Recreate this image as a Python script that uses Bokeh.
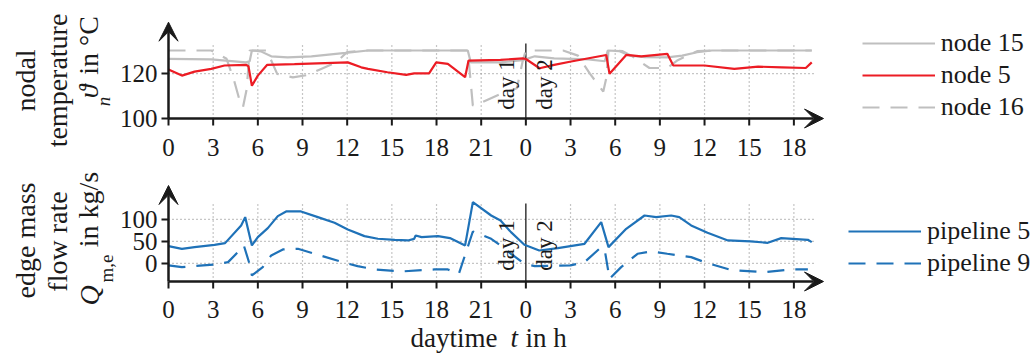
import math
from bokeh.plotting import figure
from bokeh.models import Range1d, FixedTicker, Arrow, VeeHead, Label, Legend, LegendItem
from bokeh.layouts import column
from bokeh.embed import file_html
from bokeh.resources import INLINE

# ---------------- data ----------------
hour_ticks = [0, 3, 6, 9, 12, 15, 18, 21, 24, 27, 30, 33, 36, 39, 42]
hour_tick_labels = ["0", "3", "6", "9", "12", "15", "18", "21",
                    "0", "3", "6", "9", "12", "15", "18"]
day_boundary = 24
temp_ticks = [100, 120]
temp_tick_labels = ["100", "120"]
temp_grid = [120]
flow_ticks = [0, 50, 100]
flow_tick_labels = ["0", "50", "100"]
flow_grid = [0, 50, 100]

node15_t = [0, 2.87, 5.2, 5.45, 5.6, 6.2, 6.9, 8.0, 9.6, 11.9, 13.4, 20.1, 20.3, 22.3,
            23.8, 24.6, 25.9, 28.2, 29.3, 29.5, 30.3, 31.0, 32.0, 33.5, 34.5, 35.5, 36.5, 43.2]
node15 = [126.6, 126.3, 125.0, 125.5, 130.3, 129.9, 127.7, 127.2, 127.7, 129.2, 130.3, 130.3, 125.0, 125.0,
          126.0, 127.7, 126.8, 126.3, 125.5, 130.3, 130.0, 128.0, 127.3, 127.2, 128.0, 129.5, 130.3, 130.3]

node5_t = [0, 0.9, 1.75, 2.87, 3.76, 5.2, 5.37, 5.6, 6.0, 6.63, 8.46, 12.04, 12.94, 13.4, 14.7, 15.96,
           16.5, 17.5, 17.98, 18.76, 19.92, 20.15, 22.3, 23.8, 24.0, 24.92, 25.9, 27.04, 29.4, 29.62,
           30.74, 31.75, 33.5, 33.9, 36.0, 38.0, 39.6, 41.2, 42.8, 43.2]
node5 = [121.8, 119.1, 120.9, 122.1, 123.6, 123.9, 123.3, 114.6, 119.1, 123.9, 124.2, 125.0, 122.8, 122.1,
         120.6, 119.4, 120.1, 120.1, 125.0, 124.3, 118.4, 125.8, 126.1, 126.8, 126.5, 122.4, 123.9, 125.4,
         128.3, 119.9, 128.3, 127.7, 128.8, 123.6, 123.6, 122.1, 123.1, 122.8, 122.5, 125.0]

node16_t = [0, 2.87, 3.9, 4.4, 4.75, 5.0, 5.25, 5.45, 6.6, 7.3, 8.35, 9.36, 10.25, 11.26, 12.0, 13.4,
            20.1, 20.44, 21.0, 22.3, 23.4, 23.8, 24.0, 26.5, 27.5, 28.3, 29.2, 29.4, 29.55, 30.5,
            31.2, 32.3, 33.5, 34.2, 35.5, 36.5, 43.2]
node16 = [130.3, 130.3, 126.6, 117.0, 108.7, 105.0, 113.0, 130.3, 130.3, 119.9, 118.3, 119.4, 122.1, 125.0,
          129.6, 130.3, 130.3, 105.7, 107.1, 110.9, 113.5, 126.0, 130.3, 130.3, 128.0, 120.0, 112.0, 118.0,
          130.3, 130.0, 127.5, 122.5, 122.5, 126.0, 130.0, 130.3, 130.3]

pipe5_t = [0, 0.9, 1.75, 3.09, 3.8, 4.88, 5.15, 5.6, 6.0, 6.67, 7.34, 7.9, 8.9, 10.03, 11.15, 12.04,
           13.16, 14.06, 15.2, 16.07, 16.5, 16.6, 17.0, 18.1, 18.9, 19.92, 20.44, 21.67, 22.3, 23.0,
           23.9, 24.9, 26.15, 27.94, 29.06, 29.55, 30.74, 31.97, 32.75, 33.76, 34.3, 35.1, 36.2, 37.57,
           39.1, 40.25, 41.15, 42.94, 43.2]
pipe5 = [39.4, 33.3, 37.1, 42.4, 46.2, 86.4, 105.3, 40.9, 59.8, 80.3, 107.6, 118.2, 118.2, 105.3, 92.4, 77.3,
         62.1, 56.1, 53.8, 52.3, 56.0, 63.6, 59.8, 62.1, 57.6, 41.0, 139.4, 109.0, 97.7, 71.2,
         42.4, 29.5, 34.8, 44.7, 93.9, 37.1, 78.8, 109.0, 105.3, 109.0, 105.3, 86.4, 69.7, 52.3,
         50.0, 46.9, 57.6, 53.8, 48.5]

pipe9_t = [0, 0.9, 3.09, 4.0, 4.88, 5.06, 5.44, 5.6, 6.33, 6.9, 7.68, 8.69, 9.8, 11.7, 12.7, 13.84,
           15.6, 17.86, 18.76, 19.5, 20.44, 21.67, 22.3, 23.0, 23.9, 24.6, 27.0, 27.94, 29.06, 29.3,
           29.62, 30.4, 31.5, 32.4, 33.5, 35.1, 36.0, 37.8, 40.0, 41.8, 42.94]
pipe9 = [-4.5, -8.3, -2.3, 3.0, 33.3, 40.9, -0.8, -27.3, -8.3, 18.2, 31.8, 33.3, 22.0, 3.0, -6.1, -13.6,
         -18.2, -13.6, -13.6, -23.5, 72.7, 56.1, 40.9, 22.0, -0.8, -6.1, -4.5, 3.0, 37.1, 30.0,
         -34.8, -8.3, 22.0, 27.3, 22.0, 14.4, 3.0, -15.0, -19.7, -13.6, -13.6]

# ---------------- style / geometry ----------------
FONT = "Liberation Serif"
INK = "#1a1a1a"
GRAY = "#bfbfbf"
RED = "#ec1c24"
BLUE = "#1f72b8"
GRIDC = "#8c8c8c"

PAGE_W = 1035
AXIS_X = 168           # pixel x of t = 0
PXH = 14.89            # pixels per hour

H1 = 168               # top panel: page y 0..168
AX1 = 118
S1 = 2.245
Y1_AX = 100.0
H2 = 186               # bottom panel: page y 168..354
AX2 = 281
S2 = 0.44
Y2_AX = -41.0


def tx(px):
    return (px - AXIS_X) / PXH


def ty1(py):
    return Y1_AX + (AX1 - py) / S1


def ty2(py):
    return Y2_AX + (AX2 - py) / S2


def make_panel(h, y0, y1):
    p = figure(width=PAGE_W, height=h, x_range=Range1d(tx(0), tx(PAGE_W)), y_range=Range1d(y0, y1),
               output_backend="svg", toolbar_location=None, title=None, y_axis_location=None,
               min_border_left=0, min_border_right=0, min_border_top=0, min_border_bottom=0)
    p.outline_line_color = None
    p.xgrid.visible = False
    p.ygrid.visible = False
    # the library axis is kept only as a zero-size carrier; ticks/labels are drawn below
    xa = p.xaxis[0]
    xa.axis_line_color = None
    xa.major_tick_line_color = None
    xa.minor_tick_line_color = None
    xa.major_tick_out = 0
    xa.major_tick_in = 0
    xa.major_label_standoff = 0
    xa.major_label_text_font_size = "1px"
    xa.major_label_text_color = None
    xa.ticker = FixedTicker(ticks=[])
    return p


def add_label(p, x, y, text, size, angle=0.0, italic=False, align="center", baseline="middle"):
    p.add_layout(Label(x=x, y=y, text=text, angle=angle, text_font=FONT, text_font_size=size,
                       text_font_style="italic" if italic else "normal",
                       text_align=align, text_baseline=baseline, text_color=INK))


def draw_axes(p, y_ax, ytip, yticks, ylabels, yscale, xlab_y):
    head = dict(size=19, fill_color=INK, line_color=INK, line_width=1)
    p.add_layout(Arrow(end=VeeHead(**head), x_start=0, y_start=y_ax, x_end=0, y_end=ytip,
                       line_width=2.5, line_color=INK))
    p.add_layout(Arrow(end=VeeHead(**head), x_start=0, y_start=y_ax, x_end=tx(823), y_end=y_ax,
                       line_width=2.5, line_color=INK))
    n = len(hour_ticks)
    p.segment(x0=hour_ticks, y0=[y_ax] * n, x1=hour_ticks, y1=[y_ax - 7 / yscale] * n,
              line_color=INK, line_width=2)
    m = len(yticks)
    p.segment(x0=[-7 / PXH] * m, y0=yticks, x1=[0] * m, y1=yticks, line_color=INK, line_width=2)
    for v, s in zip(yticks, ylabels):
        add_label(p, tx(157), v, s, "25px", align="right", baseline="middle")
    for t, s in zip(hour_ticks, hour_tick_labels):
        add_label(p, t, xlab_y, s, "25px", align="center", baseline="middle")


def draw_grid(p, y_lo, y_top, hgrid, right):
    gx = [t for t in hour_ticks if t not in (0, day_boundary)]
    p.segment(x0=gx, y0=[y_lo] * len(gx), x1=gx, y1=[y_top] * len(gx),
              line_color=GRIDC, line_width=1.2, line_dash="1 3")
    p.segment(x0=[0] * len(hgrid), y0=hgrid, x1=[right] * len(hgrid), y1=hgrid,
              line_color=GRIDC, line_width=1.2, line_dash="1 3")
    p.segment(x0=[day_boundary], y0=[y_lo], x1=[day_boundary], y1=[y_top],
              line_color=INK, line_width=1.3)


def add_legend(p, items, fx, fy):
    leg = Legend(items=items, location=(fx, fy), orientation="vertical",
                 border_line_color=None, background_fill_alpha=0,
                 label_text_font=FONT, label_text_font_size="26px", label_text_color=INK,
                 glyph_width=73, glyph_height=30, label_height=30, spacing=2,
                 padding=0, margin=0, label_standoff=6)
    p.add_layout(leg)


HALF_PI = math.pi / 2
GRID_RIGHT = tx(813)
DAY1_X = tx(505.5)
DAY2_X = tx(544)

# ---------------- top panel ----------------
p1 = make_panel(H1, ty1(H1), ty1(0))
draw_grid(p1, Y1_AX, ty1(43), temp_grid, GRID_RIGHT)
r15 = p1.line(node15_t, node15, line_color=GRAY, line_width=2.2)
r16 = p1.line(node16_t, node16, line_color=GRAY, line_width=2.2, line_dash="17 11")
r5 = p1.line(node5_t, node5, line_color=RED, line_width=2.2)
draw_axes(p1, Y1_AX, ty1(21.7), temp_ticks, temp_tick_labels, S1, ty1(146.5))
add_legend(p1, [LegendItem(label="node 15", renderers=[r15]),
                LegendItem(label="node 5", renderers=[r5]),
                LegendItem(label="node 16", renderers=[r16])], 861.7, H1 - 122)
add_label(p1, DAY1_X, ty1(84), "day 1", "23px", angle=HALF_PI)
add_label(p1, DAY2_X, ty1(84), "day 2", "23px", angle=HALF_PI)
add_label(p1, tx(25), ty1(80), "nodal", "28px", angle=HALF_PI)
add_label(p1, tx(57), ty1(80), "temperature", "28px", angle=HALF_PI)
add_label(p1, tx(88), ty1(91), "\u03d1", "28px", angle=HALF_PI, italic=True)
add_label(p1, tx(103), ty1(101), "n", "19px", angle=HALF_PI, italic=True)
add_label(p1, tx(88), ty1(45), "in \u00b0C", "28px", angle=HALF_PI)

# ---------------- bottom panel ----------------
p2 = make_panel(H2, ty2(H1 + H2), ty2(H1))
draw_grid(p2, Y2_AX, ty2(203), flow_grid, GRID_RIGHT)
rp5 = p2.line(pipe5_t, pipe5, line_color=BLUE, line_width=2.2)
rp9 = p2.line(pipe9_t, pipe9, line_color=BLUE, line_width=2.2, line_dash="17 11")
draw_axes(p2, Y2_AX, ty2(185), flow_ticks, flow_tick_labels, S2, ty2(309))
add_legend(p2, [LegendItem(label="pipeline 5", renderers=[rp5]),
                LegendItem(label="pipeline 9", renderers=[rp9])],
           848, (H1 + H2) - 278)
add_label(p2, DAY1_X, ty2(245), "day 1", "23px", angle=HALF_PI)
add_label(p2, DAY2_X, ty2(245), "day 2", "23px", angle=HALF_PI)
add_label(p2, tx(25), ty2(240), "edge mass", "28px", angle=HALF_PI)
add_label(p2, tx(57), ty2(241), "flow rate", "28px", angle=HALF_PI)
add_label(p2, tx(89), ty2(295), "Q", "28px", angle=HALF_PI, italic=True)
add_label(p2, tx(106), ty2(268), "m,e", "19px", angle=HALF_PI)
add_label(p2, tx(88), ty2(209), "in kg/s", "28px", angle=HALF_PI)
XT_Y = ty2(337)
add_label(p2, tx(410), XT_Y, "daytime", "27px", align="left")
add_label(p2, tx(510), XT_Y, "t", "27px", italic=True, align="left")
add_label(p2, tx(525), XT_Y, "in h", "27px", align="left")

layout = column(p1, p2)
open("out.html", "w").write(file_html(layout, INLINE))
